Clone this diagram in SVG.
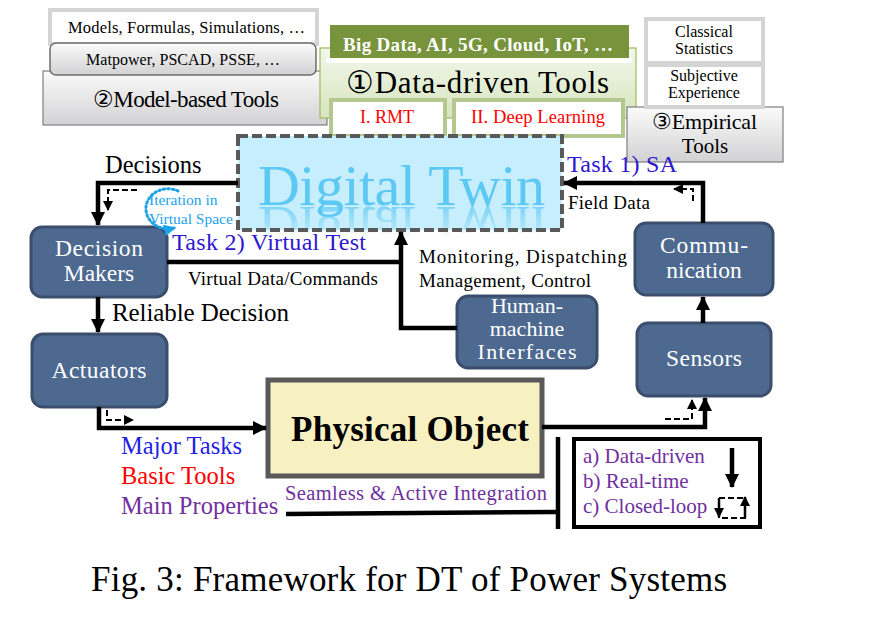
<svg xmlns="http://www.w3.org/2000/svg" width="869" height="627" viewBox="0 0 869 627" font-family="'Liberation Serif', 'Times New Roman', 'DejaVu Serif', serif">
<defs>
<linearGradient id="gGray" x1="0" y1="0" x2="0" y2="1"><stop offset="0" stop-color="#FBFBFB"/><stop offset="1" stop-color="#D2D2D4"/></linearGradient>
<linearGradient id="gGreen" x1="0" y1="0" x2="0" y2="1"><stop offset="0" stop-color="#F3F7EC"/><stop offset="1" stop-color="#D6E5BE"/></linearGradient>
<linearGradient id="gFade" x1="0" y1="0" x2="0" y2="1"><stop offset="0" stop-color="#fff" stop-opacity="0.7"/><stop offset="1" stop-color="#fff" stop-opacity="0"/></linearGradient>
<mask id="mRefl" maskUnits="userSpaceOnUse" x="230" y="200" width="340" height="45"><rect x="230" y="206" width="340" height="32" fill="url(#gFade)"/></mask>
<marker id="ah" markerWidth="14" markerHeight="14" refX="13" refY="7" orient="auto" markerUnits="userSpaceOnUse"><path d="M0,0 L14,7 L0,14 z" fill="#000"/></marker>
<marker id="ahs" markerWidth="10" markerHeight="10" refX="9" refY="5" orient="auto" markerUnits="userSpaceOnUse"><path d="M0,0 L10,5 L0,10 z" fill="#000"/></marker>
<marker id="ahb" markerWidth="12" markerHeight="12" refX="10" refY="6" orient="auto" markerUnits="userSpaceOnUse"><path d="M0,0 L12,6 L0,12 z" fill="#1AA3E8"/></marker>
</defs>
<style>
.node rect{fill:#4D6990;stroke:#3A4E6C;stroke-width:3}
.node text{fill:#fff;font-size:23.5px;text-anchor:middle}
.solid{fill:none;stroke:#000;stroke-width:4.5}
.dash{fill:none;stroke:#000;stroke-width:2;stroke-dasharray:6 3}
.lbl{font-size:19px;fill:#000}
.task{fill:#2E17D0;font-size:24px}
.purple{fill:#7030A0}
</style>
<rect width="869" height="627" fill="#fff"/>

<g id="model-based-tools">
<rect x="50" y="10" width="267" height="34" fill="#fff" stroke="#D4D4D4" stroke-width="4"/>
<text x="68" y="33" font-size="16.5" textLength="237">Models, Formulas, Simulations, …</text>
<rect x="43" y="71" width="284" height="54" fill="url(#gGray)" stroke="#7F7F7F" stroke-width="1.2"/>
<rect x="50" y="43" width="266" height="32" rx="6" fill="url(#gGray)" stroke="#6E6E6E" stroke-width="1.5"/>
<text x="86" y="65" font-size="16" textLength="194">Matpower, PSCAD, PSSE, …</text>
<text x="93" y="107" font-size="23" textLength="186">②Model-based Tools</text>
</g>

<g id="data-driven-tools">
<rect x="320" y="48" width="316" height="70" fill="url(#gGreen)" stroke="#9BBB59" stroke-width="1.2"/>
<rect x="326" y="58" width="306" height="5" fill="#fff"/>
<rect x="330" y="25" width="299" height="33" fill="#77933C"/>
<text x="343" y="51" font-size="19" font-weight="bold" fill="#fff" textLength="270">Big Data, AI, 5G, Cloud, IoT, …</text>
<text x="346" y="93" font-size="31" textLength="263">①Data-driven Tools</text>
<rect x="331" y="100" width="114" height="36" fill="#fff" stroke="#B3C78F" stroke-width="4"/>
<text x="360" y="123" font-size="18" fill="#FF0000" textLength="54">I. RMT</text>
<rect x="454" y="100" width="169" height="36" fill="#fff" stroke="#B3C78F" stroke-width="4"/>
<text x="471" y="123" font-size="18.5" fill="#FF0000" textLength="134">II. Deep Learning</text>
</g>

<g id="empirical-tools">
<rect x="627" y="107" width="156" height="55" fill="url(#gGray)" stroke="#7F7F7F" stroke-width="1.2"/>
<rect x="646" y="19" width="117" height="44" fill="#fff" stroke="#D4D4D4" stroke-width="4"/>
<text x="704" y="37" font-size="16" text-anchor="middle">Classical</text>
<text x="704" y="54" font-size="16" text-anchor="middle">Statistics</text>
<rect x="646" y="65" width="117" height="42" fill="#fff" stroke="#D4D4D4" stroke-width="4"/>
<text x="704" y="81" font-size="16" text-anchor="middle">Subjective</text>
<text x="704" y="98" font-size="16" text-anchor="middle">Experience</text>
<text x="652" y="129" font-size="22" textLength="105">③Empirical</text>
<text x="705" y="153" font-size="21" text-anchor="middle">Tools</text>
</g>

<g id="digital-twin">
<rect x="238" y="136" width="324" height="94" fill="#C7EEFC"/>
<text x="258" y="205" font-size="58" fill="#5CC8F4" textLength="287">Digital Twin</text>
<g mask="url(#mRefl)"><text x="258" y="205" font-size="58" fill="#5CC8F4" textLength="287" transform="matrix(1,0,0,-1,0,412)">Digital Twin</text></g>
<rect x="238" y="136" width="324" height="94" fill="none" stroke="#595959" stroke-width="4" stroke-dasharray="10 4"/>
</g>

<g id="decision-makers" class="node">
<rect x="31" y="227" width="136" height="70" rx="11"/>
<text x="99" y="256" textLength="88">Decision</text>
<text x="99" y="281">Makers</text>
</g>
<g id="actuators" class="node">
<rect x="32" y="334" width="135" height="73" rx="11"/>
<text x="99" y="378" textLength="95">Actuators</text>
</g>
<g id="hmi" class="node">
<rect x="457" y="296" width="140" height="72" rx="11"/>
<text x="527" y="313" style="font-size:22px">Human-</text>
<text x="527" y="336" style="font-size:22px">machine</text>
<text x="527" y="359" style="font-size:22px" textLength="99">Interfaces</text>
</g>
<g id="communication" class="node">
<rect x="635" y="223" width="138" height="72" rx="11"/>
<text x="704" y="253" textLength="88">Commu-</text>
<text x="704" y="278">nication</text>
</g>
<g id="sensors" class="node">
<rect x="637" y="323" width="134" height="73" rx="11"/>
<text x="704" y="366" textLength="76">Sensors</text>
</g>

<g id="physical-object">
<rect x="268" y="380" width="274" height="96" fill="#F7F0C0" stroke="#595959" stroke-width="5"/>
<text x="291" y="441" font-size="35" font-weight="bold" textLength="238">Physical Object</text>
</g>

<g id="connectors">
<path class="solid" d="M238,183 H98 V225" marker-end="url(#ah)"/>
<path class="dash" d="M137,190 H108 V210" marker-end="url(#ahs)"/>
<path d="M178,191 A22,20 0 1 0 174,228" fill="none" stroke="#1AA3E8" stroke-width="3" stroke-dasharray="1.5 3" stroke-linecap="round" marker-end="url(#ahb)"/>
<path class="solid" d="M167,262 H401"/>
<path class="solid" d="M457,328 H401 V232" marker-end="url(#ah)"/>
<path class="solid" d="M703,223 V183 H564" marker-end="url(#ah)"/>
<path class="dash" d="M693,201 V189 H674" marker-end="url(#ahs)"/>
<path class="solid" d="M703,323 V297" marker-end="url(#ah)"/>
<path class="solid" d="M98,297 V332" marker-end="url(#ah)"/>
<path class="solid" d="M99,407 V428 H266" marker-end="url(#ah)"/>
<path class="dash" d="M107,410 V420 H133" marker-end="url(#ahs)"/>
<path class="solid" d="M542,427 H705 V398" marker-end="url(#ah)"/>
<path class="dash" d="M665,419 H692 V400" marker-end="url(#ahs)"/>
<path class="solid" d="M286,514 L557,512" stroke-width="3.5"/>
<path class="solid" d="M558,437 V529" stroke-width="4"/>
</g>

<g id="labels">
<text x="105" y="173" font-size="24.5">Decisions</text>
<text x="149" y="205" font-size="15.5" fill="#1AA3E8">Iteration in</text>
<text x="149" y="224" font-size="15.5" fill="#1AA3E8">Virtual Space</text>
<text class="task" x="172" y="250" textLength="194">Task 2) Virtual Test</text>
<text class="lbl" x="419" y="263" textLength="208">Monitoring,    Dispatching</text>
<text class="lbl" x="188" y="285" textLength="190">Virtual Data/Commands</text>
<text class="lbl" x="419" y="287" textLength="172">Management, Control</text>
<text class="task" x="567" y="172" textLength="110">Task 1) SA</text>
<text class="lbl" x="568" y="209" textLength="82">Field Data</text>
<text x="112" y="321" font-size="25" textLength="177">Reliable Decision</text>
<text x="121" y="454" font-size="24.5" fill="#1F1FE6">Major Tasks</text>
<text x="121" y="484" font-size="24.5" fill="#FF0000">Basic Tools</text>
<text x="121" y="514" font-size="24.5" class="purple">Main Properties</text>
<text x="285" y="500" font-size="20.5" class="purple" textLength="262">Seamless &amp; Active Integration</text>
</g>

<g id="legend">
<rect x="574" y="439" width="186" height="88" fill="#fff" stroke="#000" stroke-width="4"/>
<text x="583" y="463" font-size="21" class="purple">a) Data-driven</text>
<text x="583" y="488" font-size="21" class="purple">b) Real-time</text>
<text x="583" y="513" font-size="21" class="purple">c) Closed-loop</text>
<path class="solid" d="M732,448 V487" marker-end="url(#ah)"/>
<path class="dash" d="M719,498 H745 V518 H719 V498"/>
<path d="M719,498 V517" stroke="#000" stroke-width="2.5" marker-end="url(#ahs)"/>
<path d="M745,518 V497" stroke="#000" stroke-width="2.5" marker-end="url(#ahs)"/>
</g>

<text x="91" y="591" font-size="35" textLength="636">Fig. 3: Framework for DT of Power Systems</text>
</svg>
